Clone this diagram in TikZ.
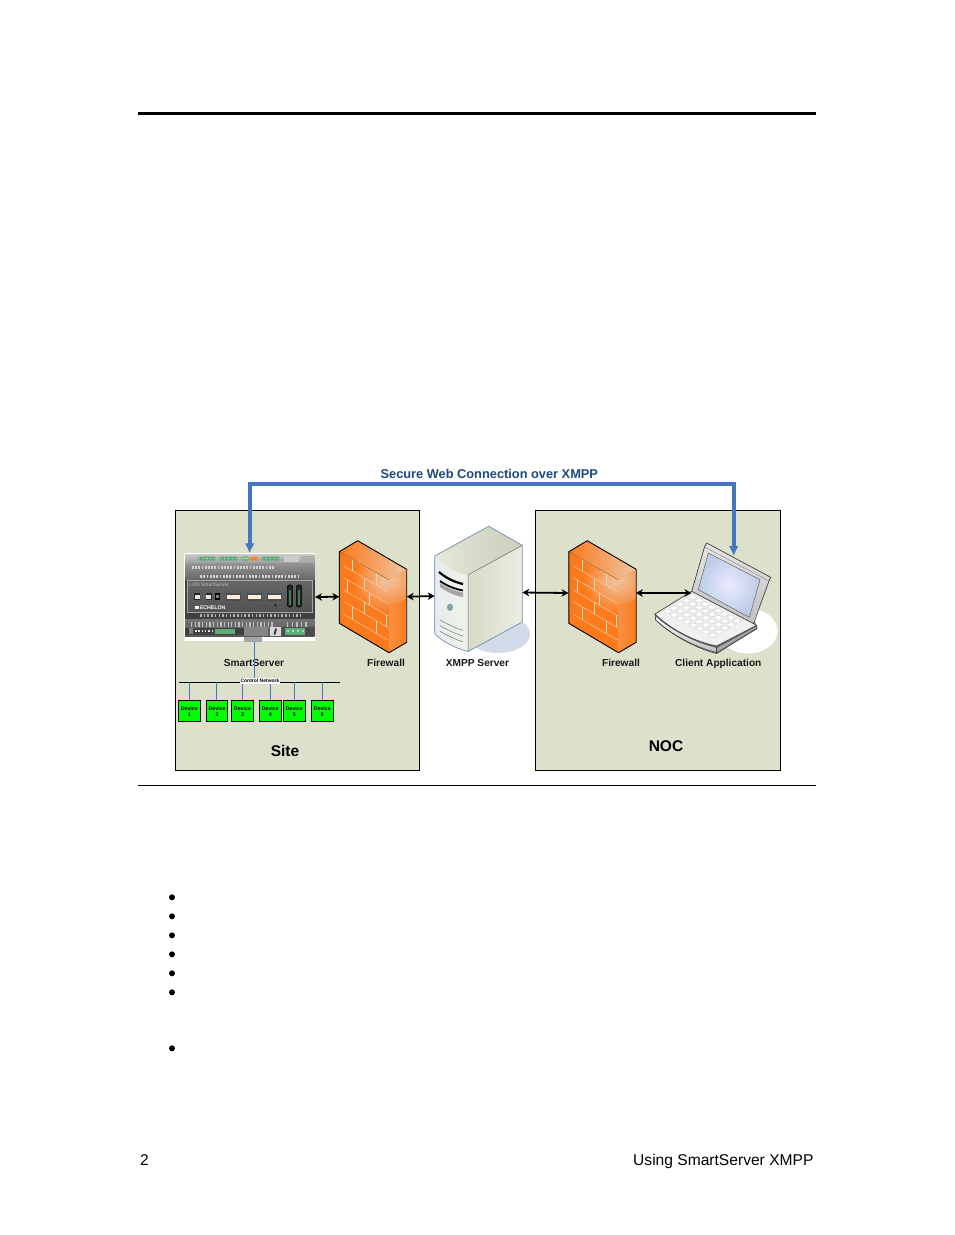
\documentclass[tikz,border=0pt]{standalone}
\usepackage{fontspec}
\setmainfont{Liberation Sans}
\usetikzlibrary{arrows.meta,calc}
\definecolor{boxfill}{HTML}{DDE0CB}
\definecolor{linkblue}{HTML}{4676BE}
\definecolor{titleblue}{HTML}{1F497D}
\definecolor{devgreen}{HTML}{00FF00}
\definecolor{fworange}{HTML}{FB7A1C}
\definecolor{fwlight}{HTML}{EFC4A0}
\definecolor{ledgreen}{HTML}{5FAE78}
\definecolor{srvedge}{HTML}{6F8FB8}
\definecolor{srvshadow}{HTML}{D2DBEA}
\definecolor{srvfront}{HTML}{E6EEF0}
\definecolor{screenedge}{HTML}{BCCCE6}
\tikzset{
  zonebox/.style={draw=black,line width=0.8pt,fill=boxfill},
  holder/.style={inner sep=0pt,outer sep=0pt,minimum width=#1},
  imglabel/.style={font=\bfseries\fontsize{10.15}{12}\selectfont,text=black!90,inner sep=0pt,anchor=base},
  zonelabel/.style={font=\bfseries\fontsize{15.5}{18}\selectfont,inner sep=0pt},
  device/.style={draw=black,line width=0.9pt,fill=devgreen,minimum width=21.5pt,minimum height=21pt,inner sep=0pt,align=center,font=\bfseries\fontsize{5.3}{6.3}\selectfont},
  devline/.style={draw=linkblue,line width=0.8pt},
  biarrow/.style={draw=black,line width=1.8pt,{Stealth[length=7pt,width=7.5pt]}-{Stealth[length=7pt,width=7.5pt]}},
  bluelink/.style={draw=linkblue,line width=3.8pt,line join=miter,{Latex[length=10pt,width=10pt]}-{Latex[length=10pt,width=10pt]}},
  brick/.style={draw=fwlight!70!white,line width=0.4pt},
  bullet/.style={circle,fill=black,inner sep=0pt,minimum size=6pt},
  pagetext/.style={font=\fontsize{15.6}{19}\selectfont,inner sep=0pt},
}
\newcommand{\firewallshape}[2]{%
\begin{scope}[shift={(#1,#2)}]
  \begin{scope}
    \clip (0,11) -- (49.7,39.3) -- (49.7,112) -- (0,82.6) -- cycle;
    \fill[fworange] (-1,0) rectangle (51,113);
    \shade[inner color=fwlight,outer color=fworange] (46,40) circle (32);
  \end{scope}
  \shade[left color=fworange,right color=fwlight] (0,11) -- (18.4,0) -- (67.4,28.6) -- (49.7,39.3) -- cycle;
  \begin{scope}
    \clip (49.7,39.3) -- (67.4,28.6) -- (67.4,101.6) -- (49.7,112) -- cycle;
    \shade[left color=fworange!70!fwlight,right color=fworange] (49,25) rectangle (68,113);
    \shade[inner color=fwlight,outer color=fworange!70!fwlight] (50,38) circle (26);
  \end{scope}
  \foreach \yy in {13.6,25.3,37,49.3,61,73.6}{\draw[brick] (4.5,\yy) -- (49,\yy+26);}
  \foreach \xx/\yy in {13/13.6,37/13.6,25/25.3,8/37,30/37,25/49.3,47/49.3,13/61,37/61}{%
    \draw[brick] (\xx,{\yy+0.585*(\xx-4.5)}) -- (\xx,{\yy+11.9+0.585*(\xx-4.5)});}
  \draw[black,line width=0.9pt,line join=round] (0,11) -- (18.4,0) -- (67.4,28.6) -- (67.4,101.6) -- (49.7,112) -- (0,82.6) -- cycle;
  \draw[black!50!fworange,line width=0.3pt] (0,11) -- (49.7,39.3);
\end{scope}}
\begin{document}
\begin{tikzpicture}[x=1pt,y=-1pt]
\useasboundingbox (0,0) rectangle (954,1235);
\fill[white] (0,0) rectangle (954,1235);
% page rules
\coordinate (ruleAl) at (138,113.2); \coordinate (ruleAr) at (816,113.2);
\coordinate (ruleBl) at (138,785.5); \coordinate (ruleBr) at (816,785.5);
\draw[black,line width=3.2pt] (ruleAl) -- (ruleAr);
\draw[black,line width=0.8pt] (ruleBl) -- (ruleBr);
% zones
\node[zonebox,anchor=north west,minimum width=244pt,minimum height=260pt,inner sep=0pt] (site) at (175,510.2) {};
\node[zonebox,anchor=north west,minimum width=245pt,minimum height=260pt,inner sep=0pt] (noc) at (535.2,510.2) {};
% image holders
\node[holder=130.7pt,minimum height=87.4pt] (smart) at (249.65,597) {};
\node[holder=67.4pt,minimum height=112pt] (fwa) at (373,596.7) {};
\node[holder=87.6pt,minimum height=126pt] (server) at (478.5,589) {};
\node[holder=67.4pt,minimum height=112pt] (fwb) at (602.2,596.7) {};
\node[holder=116pt,minimum height=110pt] (laptop) at (713,598) {};
% --- SmartServer
\fill[white] (184.3,553.3) rectangle (315,640.7);
\fill[black!35] (244,636) rectangle (262,642);
\shade[top color=black!22,bottom color=black!38] (185,554.5) rectangle (314.5,563);
\fill[black!20] (284,555.5) rectangle (299,562);
\fill[black!32] (300.5,555.5) rectangle (313.5,562);
\foreach \a/\b in {198/216,219/238,241/249,261/280}{\fill[ledgreen,rounded corners=1.5pt] (\a,556.5) rectangle (\b,560.5);
  \foreach \k in {0,...,4}{\fill[white!60!ledgreen] ({\a+1.5+\k*(\b-\a-3)/4-0.6},557.6) rectangle ++(1.2,1.8);}}
\fill[orange!75!red!80!white,rounded corners=1.5pt] (250,556.5) rectangle (258,560.5);
\shade[top color=black!42,bottom color=black!60] (185,563) rectangle (314.5,580);
\foreach \k in {0,...,25}{\fill[black!18] ({192+\k*3.2},565.5) rectangle ++(1.7,3);}
\foreach \k in {0,...,30}{\fill[black!18] ({200+\k*3.25},574.5) rectangle ++(1.8,3);}
\fill[black!70] (185,579.5) rectangle (314.5,580.5);
\fill[black!75] (185,580.5) rectangle (314.5,619);
\shade[top color=black!60,bottom color=black!68] (187,580.5) rectangle (312,612.5);
\draw[black!35,line width=0.4pt] (187,580.5) rectangle (312,612.5);
\node[inner sep=0pt,text=black!25,font=\fontsize{5}{5}\selectfont] (ilon) at (208,584.5) {i.LON SmartServer};
\node[inner sep=0pt,text=white,font=\bfseries\fontsize{5.2}{6}\selectfont] (logo) at (210,607.3) {\rule{4pt}{3pt} ECHELON};
\foreach \xx in {197.3,208.5}{\fill[black!85] (\xx-3,593) rectangle (\xx+3,600); \fill[white!90!black] (\xx-2.2,595) rectangle (\xx+2.2,599);}
\fill[black] (214.5,593) rectangle (219.5,600); \fill[white!50!black] (215.5,595) rectangle (218.5,598);
\foreach \xx in {233,254,274}{\fill[black!70] (\xx-7.5,593) rectangle (\xx+7.5,601); \fill[white!85!orange] (\xx-6.5,594.5) rectangle (\xx+6.5,598.5);}
\fill[black] (275.5,605) circle (1pt);
\foreach \xx in {290,299}{\draw[black,line width=0.6pt,fill=black!85,rounded corners=2pt] (\xx-2.6,585) rectangle (\xx+2.6,607);
  \fill[ledgreen!70!black] (\xx-1.2,590) rectangle (\xx+1.2,605);}
\foreach \k in {0,...,27}{\fill[black!30] ({200+\k*3.7},613.5) rectangle ++(1.5,3.5);}
\shade[top color=black!55,bottom color=black!65] (185,619) rectangle (314.5,636);
\foreach \k in {0,...,22}{\fill[black!25] ({191+\k*3.65},621.5) rectangle ++(1.3,5);}
\foreach \k in {0,...,4}{\fill[black!25] ({287+\k*4.6},621.5) rectangle ++(1.3,5);}
\fill[black!75] (185,627.5) rectangle (244,635);
\fill[black!50] (189,628) rectangle (193,634);
\foreach \k in {0,...,5}{\fill[black!10] ({195+\k*3.3},629.5) rectangle ++(1.5,2.8);}
\fill[ledgreen] (215,628.5) rectangle (235,634);
\fill[black!48] (244,627) rectangle (268,636);
\fill[white!85!black] (270,627) rectangle (281,636);
\fill[black!80] (275,628.5) -- (277,628.5) -- (275.5,634.5) -- (273.5,634.5) -- cycle;
\fill[black!70] (282,627) rectangle (314.5,636);
\fill[ledgreen] (285,628) rectangle (305,634.5);
\foreach \k in {0,...,3}{\fill[white!70!ledgreen] ({288+\k*5},631) circle (1.1pt);}
% --- Firewalls
\firewallshape{339.3}{540.7}
\firewallshape{568.8}{540.7}
% --- Server
\fill[srvshadow] (498,634) ellipse [x radius=32,y radius=19];
\shade[left color=black!3!boxfill,right color=boxfill!55!white] (468,576) -- (522.3,545.3) -- (522.3,622) -- (468,651.5) -- cycle;
\shade[left color=boxfill!75!white,right color=boxfill!92!black] (434.7,556) -- (488.7,526.3) -- (522.3,545.3) -- (468,575) .. controls (455,573) and (443,566) .. (434.7,556);
\shade[left color=srvfront,right color=boxfill!45!white] (434.7,556) .. controls (443,566) and (455,573) .. (468,575) -- (468,651.5) .. controls (455,648) and (443,642) .. (434.7,633.7) -- cycle;
\draw[srvedge,line width=0.7pt,line join=round] (468,651.5) .. controls (455,648) and (443,642) .. (434.7,633.7) -- (434.7,556) -- (488.7,526.3) -- (522.3,545.3) -- (522.3,622) -- cycle;
\draw[black!60,line width=0.5pt] (468,651.5) -- (468,575) -- (522.3,545.3);
\draw[black,line width=2.2pt] (439,572) .. controls (446,578) and (454,582) .. (463,584);
\fill[black!35] (440,583) .. controls (447,588) and (455,591) .. (463,592.5) -- (463,597) .. controls (455,596) and (447,592) .. (440,587) -- cycle;
\draw[black,line width=1.8pt] (440,581) .. controls (447,586) and (455,589) .. (463,590.5);
\fill[teal!50!gray!70!white,draw=black!40,line width=0.3pt] (450,607.3) ellipse [x radius=2.8,y radius=3.5];
\foreach \d in {0,5.7,11.4}{\draw[black!55,line width=0.5pt] (439.7,619.7+\d) .. controls (447,624+\d) and (455,628+\d) .. (463,630.3+\d);}
% --- Laptop
\fill[white] (748,631) ellipse [x radius=29.5,y radius=22.5];
\fill[black!45] (716.7,653) -- (757.3,629) -- (755,621) -- (716.7,645) -- cycle;
\shade[top color=black!10,bottom color=black!25] (691.7,591.3) -- (706.7,543) -- (770.7,577.3) -- (751.7,625) -- cycle;
\draw[black!75,line width=0.7pt,line join=round] (691.7,591.3) -- (704.5,547) -- (706.7,543) -- (770.7,577.3) -- (769,581) -- (753,625);
\draw[black!50,line width=0.4pt] (704.5,547) -- (769,581);
\shade[inner color=white!92!blue,outer color=screenedge] (708.3,553) -- (760,579.7) -- (749.3,617.3) -- (698.3,589.7) -- cycle;
\draw[black!60,line width=0.5pt] (708.3,553) -- (760,579.7) -- (749.3,617.3) -- (698.3,589.7) -- cycle;
\fill[black!60] (655,614) -- (655.7,620) .. controls (670,634) and (695,648) .. (716.7,653) -- (756.7,628) -- (756.7,625) -- (716.7,645) -- cycle;
\shade[top color=white,bottom color=black!25] (655,616) .. controls (670,630) and (695,643) .. (716.7,648) -- (717,652) .. controls (695,647) and (670,633) .. (655.7,619.5) -- cycle;
\fill[black!35] (717,648) -- (756.5,626.5) -- (756.5,628) -- (717,652) -- cycle;
\fill[black!6] (655,614) -- (691.7,591.3) -- (756.7,625.3) -- (716.7,646) .. controls (695,642) and (670,629) .. (655,614) -- cycle;
\draw[black!75,line width=0.7pt,line join=round] (691.7,591.3) -- (655,614) .. controls (670,629) and (695,642) .. (716.7,646) -- (756.7,625.3) -- (691.7,591.3);
\draw[black!75,line width=0.7pt] (655,614) -- (655.7,620) .. controls (670,634) and (695,648) .. (716.7,653.5) -- (756.7,628.5) -- (756.7,625.3);
\draw[black!75,line width=0.6pt] (716.7,646) -- (716.7,653.5);
\foreach \u in {0,...,7}{\foreach \v in {0,...,4}{%
  \pgfmathsetmacro{\px}{692.5+\u*6.4-\v*6.2}
  \pgfmathsetmacro{\py}{594.5+\u*3.4+\v*3.6}
  \fill[white,draw=black!22,line width=0.3pt,rounded corners=0.6pt] (\px,\py) -- (\px+4.8,\py+2.5) -- (\px+0.2,\py+5.2) -- (\px-4.6,\py+2.7) -- cycle;
}}
% --- Labels
\node[imglabel] (lblsmart) at (254,666) {SmartServer};
\node[imglabel] (lblfwa) at (386,666.5) {Firewall};
\node[imglabel] (lblsrv) at (477.5,666) {XMPP Server};
\node[imglabel] (lblfwb) at (621,666.5) {Firewall};
\node[imglabel] (lbllap) at (718.3,666) {Client Application};
\node[zonelabel] (lblsite) at (285,751) {Site};
\node[zonelabel] (lblnoc) at (666,746) {NOC};
\node[inner sep=0pt,text=titleblue,font=\bfseries\fontsize{12.8}{14}\selectfont] (lbltitle) at (489.3,474) {Secure Web Connection over XMPP};
% --- Control network
\coordinate (busl) at (179.3,682.3);
\coordinate (busr) at (340,682.3);
\draw[black,line width=0.9pt] (busl) -- (busr);
\node[device] (d1) at (189.3,711.3) {Device\\1};
\node[device] (d2) at (217.1,711.3) {Device\\2};
\node[device] (d3) at (242.5,711.3) {Device\\3};
\node[device] (d4) at (270.3,711.3) {Device\\4};
\node[device] (d5) at (294.3,711.3) {Device\\5};
\node[device] (d6) at (322.3,711.3) {Device\\6};
\foreach \n/\xx in {d1/189.3,d2/216.3,d3/242.3,d4/270.3,d5/294.3,d6/322.3}{\draw[devline] (\n.north -| \xx,0) -- (\xx,682.3);}
\coordinate (netdrop) at (254,682.3);
\draw[devline] (254,641.5) -- (netdrop);
\node[fill=white,inner sep=0pt,minimum width=40pt,minimum height=6.4pt,font=\bfseries\fontsize{5}{6}\selectfont] (ctrl) at (260,680.8) {Control Network};
% --- connectors
\draw[biarrow] (smart.east) -- (fwa.west);
\draw[biarrow] (fwa.east) -- ([yshift=-7pt]server.west);
\draw[biarrow] ([yshift=-3.5pt]server.east) -- ([yshift=3.7pt]fwb.west);
\draw[biarrow] ([yshift=3.7pt]fwb.east) -- ([yshift=5pt]laptop.west -| 691.5,0);
\coordinate (routel) at (249.65,484);
\coordinate (router) at (733.7,484);
\draw[bluelink] (smart.north) -- (routel) -- (router) -- ([xshift=20.7pt,yshift=-13pt]laptop.north);
% --- bullets
\foreach \i/\yy in {1/897.3,2/916.3,3/935.3,4/954.3,5/973.3,6/992.3,7/1048.3}{\node[bullet] (b\i) at (172,\yy) {};}
% --- footer
\node[pagetext,anchor=base west] (pagenum) at (140,1165) {2};
\node[pagetext,anchor=base east] (pagettl) at (813.7,1165) {Using SmartServer XMPP};
\end{tikzpicture}
\end{document}
